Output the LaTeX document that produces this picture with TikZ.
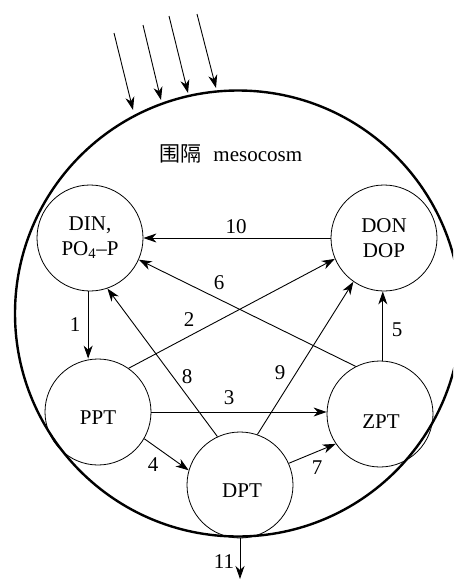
\documentclass[tikz,border=0pt]{standalone}
\usepackage{fontspec}
\setmainfont{Liberation Serif}
\newfontfamily\cjk{Noto Sans CJK SC}
\usetikzlibrary{arrows.meta}
\begin{document}
\begin{tikzpicture}[x=1pt,y=-1pt,
  pool/.style={circle,draw,line width=0.8pt,minimum size=106pt,inner sep=0pt},
  txt/.style={font=\fontsize{21}{25}\selectfont,inner sep=0pt,align=center},
  num/.style={font=\fontsize{21}{23}\selectfont,inner sep=0pt},
  flow/.style={line width=0.9pt,-{Stealth[length=13pt,width=9pt,inset=4pt]}}]
\useasboundingbox (0,0) rectangle (453,581);

% mesocosm boundary
\begin{scope}
  \clip (0,0) rectangle (453,581);
  \draw[line width=2.4pt] (238,313.5) circle (223pt);
\end{scope}

% incoming light
\coordinate (s1) at (114,33);  \coordinate (e1) at (133,110);
\coordinate (s2) at (143,25);  \coordinate (e2) at (161,100);
\coordinate (s3) at (169,16);  \coordinate (e3) at (188,93);
\coordinate (s4) at (197,14);  \coordinate (e4) at (216,88);
\foreach \i in {1,...,4} \draw[flow] (s\i) -- (e\i);

\node[txt] (title) at (231,154) {{\cjk 围隔}\hspace{0.55em}mesocosm};

% pools
\node[pool] (din) at (90,238) {};
\node[txt] (din-t) at (90,238) {DIN,\\PO\textsubscript{4}–P};
\node[pool] (don) at (384,238) {};
\node[txt] (don-t) at (384,238) {DON\\DOP};
\node[pool] (ppt) at (98,412) {};
\node[txt] (ppt-t) at (98,418) {PPT};
\node[pool] (zpt) at (380,414) {};
\node[txt] (zpt-t) at (381,422) {ZPT};
\node[pool] (dpt) at (240,485) {};
\node[txt] (dpt-t) at (242,491) {DPT};
\coordinate (out) at (240,579);

% fluxes
\draw[flow] (don.west) -- (don.west -| din.east);
\draw[flow] (zpt.117) -- (din.-24);
\draw[flow] (din.268) -- (din.268 |- ppt.north);
\draw[flow] (ppt.55) -- (don.203);
\draw[flow] (ppt.east) -- (ppt.east -| zpt.west);
\draw[flow] (ppt.-30) -- (dpt.164);
\draw[flow] (dpt.115) -- (din.-71);
\draw[flow] (dpt.71) -- (don.235);
\draw[flow] (dpt.24) -- (zpt.214);
\draw[flow] (zpt.87) -- (zpt.87 |- don.south);
\draw[flow] (dpt.south) -- (out);

% flux numbers
\node[num] (n10) at (236,227) {10};
\node[num] (n6) at (219,283) {6};
\node[num] (n2) at (189,320) {2};
\node[num] (n8) at (187,377) {8};
\node[num] (n9) at (280,373) {9};
\node[num] (n3) at (229,398) {3};
\node[num] (n4) at (153,465) {4};
\node[num] (n7) at (317,468) {7};
\node[num] (n5) at (397,330) {5};
\node[num] (n1) at (75,325) {1};
\node[num] (n11) at (224,562) {11};
\end{tikzpicture}
\end{document}
